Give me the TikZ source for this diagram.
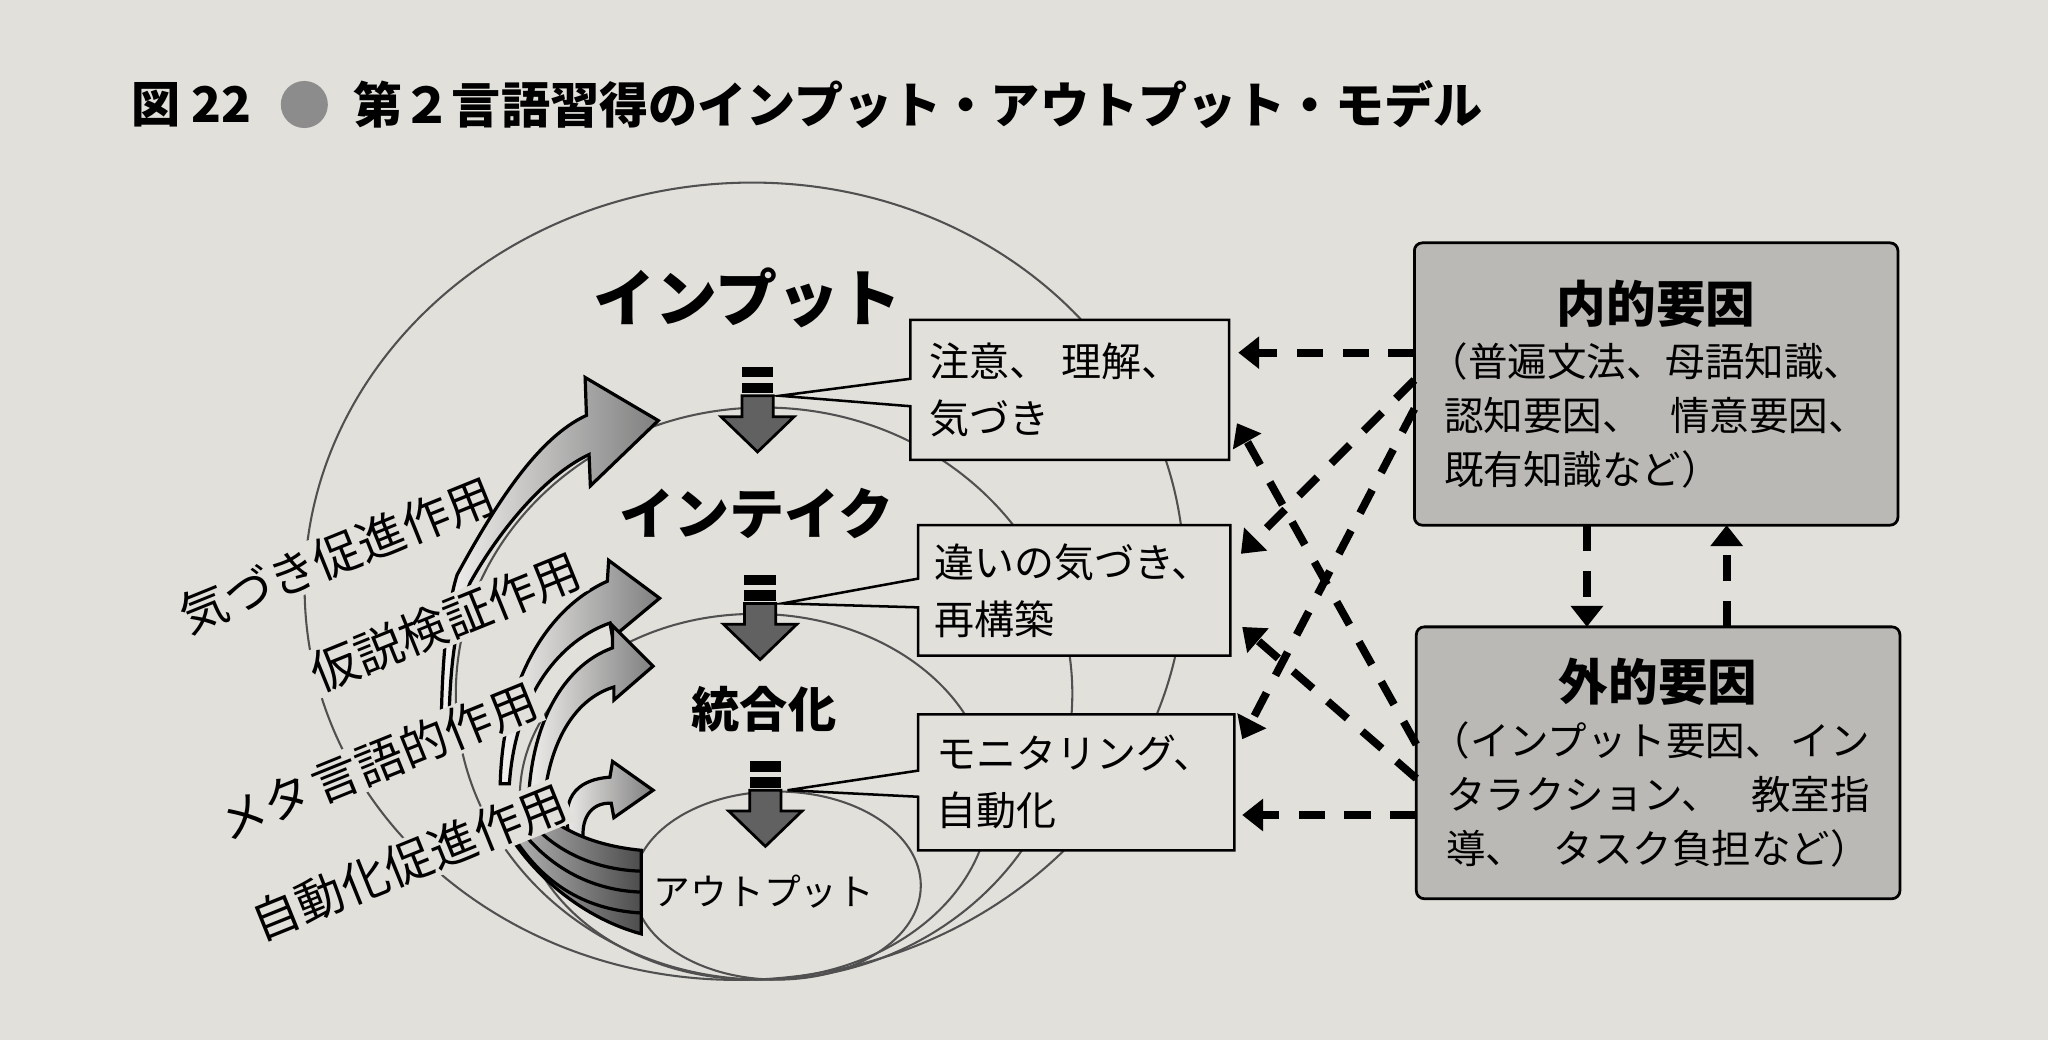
\documentclass[tikz,border=0pt]{standalone}
\usepackage{fontspec}
\setmainfont{Noto Sans CJK JP}
\usepackage{xcolor}
\usepackage{tikz}
\usetikzlibrary{calc, arrows.meta, positioning}

\definecolor{giay}{RGB}{226,224,219}
\definecolor{xamhop}{RGB}{186,185,181}
\definecolor{netmo}{RGB}{80,80,80}

\begin{document}
\begin{tikzpicture}[x=0.01cm, y=-0.01cm, >={Triangle[length=0.16cm, width=0.24cm]},
    vong/.style={draw=netmo, line width=0.45pt},
    muiten/.style={draw, line width=0.7pt, left color=giay!40!white, right color=black!50},
    nhan/.style={rotate=22, fill=giay, inner sep=0.5pt, font=\fontsize{10.4}{12}\selectfont},
    hop/.style={fill=giay, outer sep=0pt, inner xsep=0pt, text width=2.14cm, align=left, font=\fontsize{8.7}{12.4}\selectfont},
    yeuto/.style={draw, line width=0.6pt, fill=xamhop, rounded corners=0.06cm, outer sep=0pt, minimum width=3.70cm, inner xsep=0.21cm, text width=3.24cm, align=left, font=\fontsize{8.6}{11.8}\selectfont},
    daut/.style={->, line width=1.7pt, dash pattern=on 0.2cm off 0.15cm}]

    % =================================================================
    % 1. NỀN GIẤY VÀ KHUNG
    % =================================================================
    \fill[giay] (0,0) rectangle (1568,796);
    \useasboundingbox (0,0) rectangle (1568,796);

    % =================================================================
    % 2. CÁC VÒNG ELIP LỒNG NHAU
    % =================================================================
    \draw[vong, rotate around={4.7:(570,445)}] (570,445) ellipse [x radius=337, y radius=305];
    \draw[vong] (585,531) ellipse [x radius=236, y radius=219];
    \draw[vong] (578,610) ellipse [x radius=180, y radius=140];
    \draw[vong] (595,678) ellipse [x radius=110, y radius=72];

    % Nhãn trên cùng (cắt vòng ngoài)
    \node[nhan] (l1) at (258,425) {気づき促進作用};

    % =================================================================
    % 3. CÁC MŨI TÊN CONG VÀ HÌNH QUẠT
    % =================================================================
    \draw[muiten] (338,545) .. controls (339,500) and (343,462) .. (350,440)
        .. controls (380,385) and (412,335) .. (449,318) -- (448,289) -- (504,322)
        -- (452,372) -- (451,348) .. controls (415,365) and (380,410) .. (360,446)
        .. controls (352,465) and (345,500) .. (344,545) -- cycle;
    \draw[muiten] (383,600) .. controls (385,520) and (420,465) .. (465,445)
        -- (466,429) -- (505,458) -- (469,488) -- (467,477)
        .. controls (430,490) and (395,530) .. (390,600) -- cycle;
    \draw[muiten] (405,640) .. controls (400,560) and (430,510) .. (469,496)
        -- (469,479) -- (500,510) -- (470,536) -- (470,526)
        .. controls (440,535) and (415,570) .. (415,640) -- cycle;
    \draw[muiten] (437,645) .. controls (428,612) and (440,597) .. (467,595)
        -- (469,583) -- (500,605) -- (470,626) -- (468,615)
        .. controls (452,614) and (444,628) .. (447,645) -- cycle;

    % Hình quạt bên trái vòng "アウトプット"
    \draw[line width=0.7pt, left color=black!25, right color=black!70]
        (491,651) .. controls (460,648) and (428,638) .. (405,612) -- (380,622)
        .. controls (405,672) and (450,704) .. (491,715) -- cycle;
    \draw[line width=0.7pt] (400,622) .. controls (425,655) and (460,666) .. (491,667);
    \draw[line width=0.7pt] (392,626) .. controls (420,668) and (458,682) .. (491,683);
    \draw[line width=0.7pt] (386,628) .. controls (414,682) and (455,697) .. (491,699);

    % Các nhãn nghiêng còn lại
    \node[nhan] (l2) at (341,476) {仮説検証作用};
    \node[nhan] (l3) at (289,583) {メタ\hspace{0.1em}言語的作用};
    \node[nhan] (l4) at (313,660) {自動化促進作用};

    % =================================================================
    % 4. NHÃN CÁC GIAI ĐOẠN
    % =================================================================
    \node[font=\fontsize{13.5}{15}\selectfont\bfseries] (inp) at (572,228) {インプット};
    \node[font=\fontsize{12}{14}\selectfont\bfseries] (intake) at (579,393) {インテイク};
    \node[font=\fontsize{10.5}{12}\selectfont\bfseries] (tonghop) at (585,543) {統合化};
    \node[font=\fontsize{8}{10}\selectfont] (outp) at (585,683) {アウトプット};

    % Mũi tên xuống có hai vạch
    \foreach \cx/\cy [count=\i] in {580/281, 582/440, 586/583} {
        \fill (\cx-12,\cy) rectangle (\cx+12,\cy+8);
        \fill (\cx-12,\cy+12) rectangle (\cx+12,\cy+20);
        \filldraw[fill=black!62, line width=0.6pt] (\cx-12,\cy+22) -- (\cx+12,\cy+22)
            -- (\cx+12,\cy+38) -- (\cx+28,\cy+38) -- (\cx,\cy+65) -- (\cx-28,\cy+38)
            -- (\cx-12,\cy+38) -- cycle;
        \coordinate (goc\i) at (\cx+17,\cy+22);
    }

    % =================================================================
    % 5. HỘP CHÚ THÍCH CÓ MŨI NHỌN
    % =================================================================
    \node[hop, minimum width=2.44cm, minimum height=1.07cm] (hop1) at (819,298.5) {注意、\hspace{0.3em}理解、\\気づき};
    \node[hop, minimum width=2.39cm, minimum height=1.00cm] (hop2) at (822.5,452) {違いの気づき、\\再構築};
    \node[hop, minimum width=2.42cm, minimum height=1.04cm] (hop3) at (824,599) {モニタリング、\\自動化};

    \draw[line width=0.55pt] (hop1.north west) -- (hop1.north east) -- (hop1.south east)
        -- (hop1.south west) -- ($(hop1.west)+(0,12.5)$) -- (goc1) -- ($(hop1.west)+(0,-8.5)$) -- cycle;
    \draw[line width=0.55pt] (hop2.north west) -- (hop2.north east) -- (hop2.south east)
        -- (hop2.south west) -- ($(hop2.west)+(0,13)$) -- (goc2) -- ($(hop2.west)+(0,-9)$) -- cycle;
    \draw[line width=0.55pt] (hop3.north west) -- (hop3.north east) -- (hop3.south east)
        -- (hop3.south west) -- ($(hop3.west)+(0,11)$) -- (goc3) -- ($(hop3.west)+(0,-9)$) -- cycle;

    % =================================================================
    % 6. HAI HỘP YẾU TỐ
    % =================================================================
    \node[yeuto, minimum height=2.16cm] (noi) at (1268,294) {%
        \makebox[3.24cm]{\fontsize{10.8}{13}\selectfont\bfseries 内的要因}\\
        \hspace*{-0.4em}（普遍文法、母語知識、\\
        \makebox[3.24cm][s]{認知要因、\hfill 情意要因、}\\
        既有知識など）};
    \node[yeuto, minimum height=2.08cm] (ngoai) at (1269.5,584) {%
        \makebox[3.24cm]{\fontsize{10.8}{13}\selectfont\bfseries 外的要因}\\
        \makebox[3.24cm][s]{\hspace*{-0.4em}（インプット要因、\hfill イン}\\
        \makebox[3.24cm][s]{タラクション、\hfill 教室指}\\
        \makebox[3.24cm][s]{導、\hfill タスク負担など）}};

    % =================================================================
    % 7. MŨI TÊN NÉT ĐỨT
    % =================================================================
    \draw[daut] ($(noi.west)+(0,-24)$) -- ($(hop1.east)+(7,-28.5)$);
    \draw[daut] ($(noi.west)+(0,-3)$) -- ($(hop2.east)+(8,-28)$);
    \draw[daut] ($(noi.west)+(0,19)$) -- ($(hop3.east)+(6,-33)$);
    \draw[daut] ($(ngoai.west)+(0,-14)$) -- ($(hop1.east)+(6,25.5)$);
    \draw[daut] ($(ngoai.west)+(0,12)$) -- ($(hop2.east)+(9,28)$);
    \draw[daut] ($(ngoai.west)+(0,40)$) -- ($(hop3.east)+(6,25)$);

    \coordinate (xuong) at ($(noi.south)+(-53,0)$);
    \coordinate (len) at ($(ngoai.north)+(52.5,0)$);
    \draw[daut] (xuong) -- (xuong |- ngoai.north);
    \draw[daut] (len) -- (len |- noi.south);

    % =================================================================
    % 8. TIÊU ĐỀ
    % =================================================================
    \node[anchor=west, inner sep=0pt, font=\fontsize{10.7}{12}\selectfont\bfseries] (so) at (100,80) {図 22};
    \node[circle, fill=black!45, minimum size=0.36cm, inner sep=0pt] (cham) at (233,80) {};
    \node[anchor=west, inner sep=0pt, font=\fontsize{10.7}{12}\selectfont\bfseries] (tieude) at (270,80)
        {第２言語習得のインプット・アウトプット・モデル};

\end{tikzpicture}
\end{document}
